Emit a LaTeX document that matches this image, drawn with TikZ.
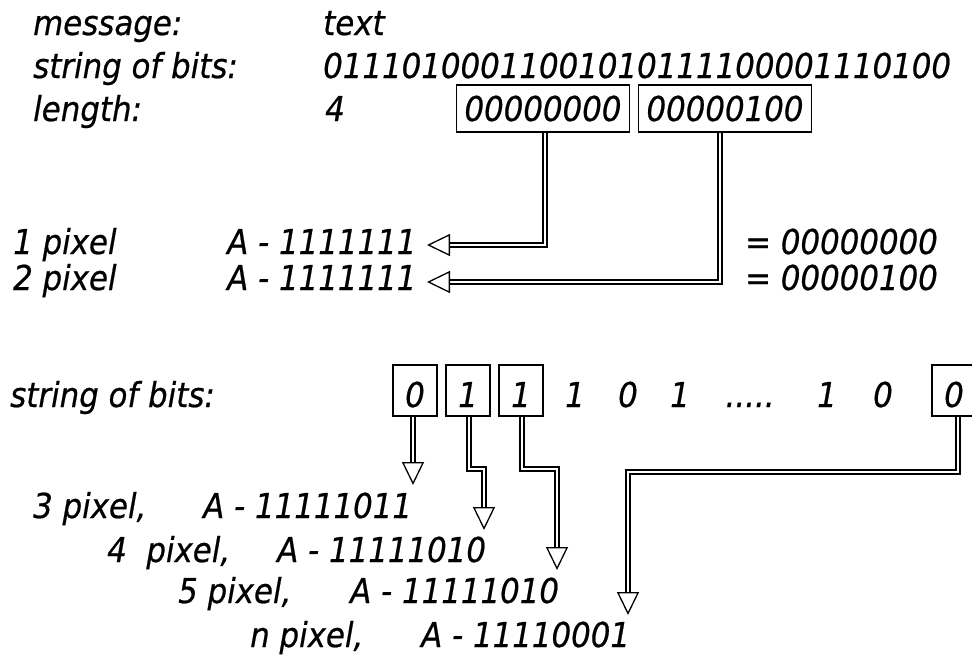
\documentclass[tikz,border=0pt]{standalone}
\usepackage{fontspec}
\setmainfont{DejaVu Sans Condensed}[FakeBold=0.6]
\usetikzlibrary{arrows.meta,calc}
\tikzset{
  fnt/.style={font=\fontsize{34.3}{40}\selectfont\itshape},
  txt/.style={fnt,anchor=base west,inner sep=0pt},
  ctxt/.style={fnt,anchor=base,inner sep=0pt},
  wbox/.style={fnt,draw,line width=1.2pt,
    inner xsep=8pt,inner ysep=11pt,text height=25pt,text depth=0pt},
  bbox/.style={fnt,draw,line width=1.2pt,
    minimum width=44pt,inner xsep=0pt,inner ysep=4pt,text height=38pt,text depth=5pt},
  conn/.style={draw=black,line width=1.4pt,double=white,double distance=2.4pt,
    -{Triangle[open,length=23pt,width=22pt,line width=1.3pt]}},
}
\begin{document}
\begin{tikzpicture}[x=1pt,y=-1pt]
\useasboundingbox (0,0) rectangle (972,657);
% top block
\node[txt] (msgl) at (33,35) {message:};
\node[txt] (msgv) at (323,35) {text};
\node[txt] (sbl) at (33,78) {string of bits:};
\node[txt] (sbv) at (323,78) {01110100011001010111100001110100};
\node[txt] (lenl) at (33,121) {length:};
\node[txt] (lenv) at (325,121) {4};
\node[wbox,anchor=base] (b1) at (543,121) {00000000};
\node[wbox,anchor=base] (b2) at (725,121) {00000100};
% pixels 1 and 2
\node[txt] (p1) at (13,254) {1 pixel};
\node[txt] (a1) at (227,254) {A - 1111111};
\node[txt] (e1) at (745,254) {= 00000000};
\node[txt] (p2) at (13,290) {2 pixel};
\node[txt] (a2) at (227,290) {A - 1111111};
\node[txt] (e2) at (745,290) {= 00000100};
\coordinate (t1) at (427,245);
\coordinate (t2) at (427,282);
\draw[conn] ([xshift=2pt]b1.south) |- (t1);
\draw[conn] ([xshift=-5pt]b2.south) |- (t2);
% bits row
\node[txt] (sb2) at (10,407) {string of bits:};
\node[bbox,anchor=base] (x0) at (415,407) {0};
\node[bbox,anchor=base] (x1) at (468,407) {1};
\node[bbox,anchor=base] (x2) at (521,407) {1};
\node[ctxt] (x3) at (575,407) {1};
\node[ctxt] (x4) at (628,407) {0};
\node[ctxt] (x5) at (680,407) {1};
\node[ctxt] (xd) at (750,407) {.....};
\node[ctxt] (x6) at (827,407) {1};
\node[ctxt] (x7) at (883,407) {0};
\node[bbox,anchor=base] (xn) at (954,407) {0};
% bottom lines
\node[txt] (p3) at (33,518) {3 pixel,};
\node[txt] (a3) at (203,518) {A - 11111011};
\node[txt] (p4) at (107,562) {4\ \ pixel,};
\node[txt] (a4) at (277,562) {A - 11111010};
\node[txt] (p5) at (178,603) {5 pixel,};
\node[txt] (a5) at (350,603) {A - 11111010};
\node[txt] (pn) at (250,647) {n pixel,};
\node[txt] (an) at (421,647) {A - 11110001};
\coordinate (t3) at (413,485);
\coordinate (t4) at (484,530);
\coordinate (t5) at (557,570);
\coordinate (tn) at (628,615);
\draw[conn] ([xshift=-2pt]x0.south) -- (t3);
\draw[conn] ([xshift=1pt]x1.south) |- (t4 |- 0,469) -- (t4);
\draw[conn] ([xshift=1pt]x2.south) |- (t5 |- 0,469) -- (t5);
\draw[conn] ([xshift=4pt]xn.south) |- (tn |- 0,472) -- (tn);
\end{tikzpicture}
\end{document}
